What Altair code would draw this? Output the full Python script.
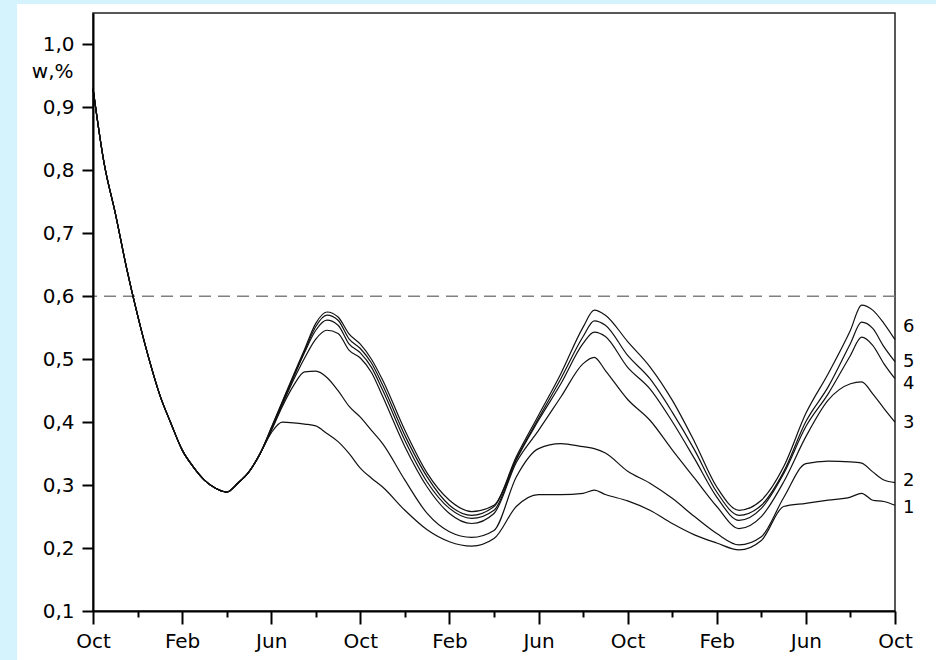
import altair as alt
import pandas as pd

# ---- data ----
months = [0, 0.5, 1, 1.5, 2, 2.5, 3, 3.5, 4, 4.5, 5, 5.5, 6, 6.5, 7, 7.5,
          8, 8.5, 9, 9.5, 10, 10.5, 11, 11.5, 12, 12.5, 13, 14, 15, 16, 17, 18,
          19, 20, 21, 22, 22.5, 23, 24, 25, 26, 27, 28, 29, 30, 31, 32, 33, 34,
          34.5, 35, 35.5, 36]

common = [0.930, 0.811, 0.732, 0.646, 0.570, 0.502, 0.443, 0.398, 0.356, 0.329,
          0.308, 0.295, 0.289, 0.303, 0.321, 0.350]

tail_1 = [0.383, 0.400, 0.399, 0.397, 0.394, 0.382, 0.369, 0.350, 0.327, 0.311,
          0.297, 0.260, 0.229, 0.210, 0.203, 0.215, 0.266, 0.285, 0.285, 0.287,
          0.292, 0.285, 0.275, 0.260, 0.239, 0.221, 0.208, 0.197, 0.212, 0.266,
          0.271, 0.276, 0.281, 0.287, 0.276, 0.274, 0.268]
tail_2 = [0.386, 0.425, 0.458, 0.480, 0.481, 0.471, 0.450, 0.425, 0.408, 0.387,
          0.366, 0.308, 0.255, 0.226, 0.217, 0.228, 0.313, 0.358, 0.366, 0.361,
          0.358, 0.351, 0.322, 0.303, 0.279, 0.250, 0.223, 0.205, 0.218, 0.280,
          0.334, 0.338, 0.337, 0.335, 0.321, 0.308, 0.304]
tail_3 = [0.388, 0.428, 0.467, 0.502, 0.532, 0.546, 0.541, 0.514, 0.502, 0.479,
          0.441, 0.361, 0.297, 0.255, 0.239, 0.255, 0.336, 0.387, 0.440, 0.493,
          0.503, 0.482, 0.436, 0.403, 0.356, 0.311, 0.266, 0.231, 0.250, 0.305,
          0.377, 0.435, 0.461, 0.464, 0.445, 0.422, 0.400]
tail_4 = [0.389, 0.430, 0.471, 0.511, 0.546, 0.562, 0.554, 0.524, 0.510, 0.487,
          0.451, 0.371, 0.305, 0.263, 0.247, 0.260, 0.340, 0.403, 0.461, 0.525,
          0.543, 0.536, 0.487, 0.453, 0.401, 0.342, 0.281, 0.244, 0.263, 0.318,
          0.393, 0.445, 0.506, 0.535, 0.522, 0.493, 0.469]
tail_5 = [0.390, 0.432, 0.473, 0.513, 0.552, 0.570, 0.562, 0.532, 0.517, 0.494,
          0.459, 0.379, 0.313, 0.268, 0.252, 0.266, 0.342, 0.406, 0.469, 0.536,
          0.561, 0.554, 0.506, 0.469, 0.416, 0.356, 0.289, 0.252, 0.268, 0.321,
          0.401, 0.456, 0.525, 0.559, 0.549, 0.520, 0.496]
tail_6 = [0.391, 0.433, 0.475, 0.516, 0.557, 0.575, 0.567, 0.540, 0.524, 0.500,
          0.467, 0.387, 0.319, 0.276, 0.258, 0.268, 0.345, 0.411, 0.477, 0.551,
          0.578, 0.570, 0.528, 0.488, 0.435, 0.369, 0.297, 0.260, 0.276, 0.329,
          0.414, 0.477, 0.546, 0.586, 0.578, 0.557, 0.531]

series_names = ["1", "2", "3", "4", "5", "6"]
tails = [tail_1, tail_2, tail_3, tail_4, tail_5, tail_6]
label_y = [0.264, 0.306, 0.399, 0.460, 0.496, 0.551]
threshold = [0.6]

month_names = ["Oct", "Feb", "Jun"]
x_ticks = list(range(0, 37, 2))
y_ticks = [round(0.1 + 0.05 * i, 2) for i in range(20)]

# ---- tables ----
rows = []
for name, tail in zip(series_names, tails):
    vals = common + tail
    for t, v in zip(months, vals):
        rows.append({"t": t, "w": v, "series": name})
df = pd.DataFrame(rows)
lab_df = pd.DataFrame({"t": [months[-1]] * 6, "w": label_y, "series": series_names})
thr_df = pd.DataFrame({"w": threshold})

FONT = "DejaVu Sans"

m0, m4, m8 = month_names
month_expr = (
    "datum.value % 4 === 0 ? (datum.value % 12 === 0 ? '" + m0 + "' : "
    "(datum.value % 12 === 4 ? '" + m4 + "' : '" + m8 + "')) : ''"
)

x_axis = alt.Axis(
    values=x_ticks,
    labelExpr=month_expr,
    tickSize={"condition": {"test": "datum.value % 4 === 0", "value": 13}, "value": 6},
    tickColor="black", tickWidth=2,
    domainColor="black", domainWidth=2,
    labelFont=FONT, labelFontSize=20, labelColor="black",
    labelPadding=7, labelOverlap=False, labelFlush=False,
    grid=False, title=None, zindex=1,
)
y_axis = alt.Axis(
    values=y_ticks,
    labelExpr="round(datum.value * 100) % 10 === 0 ? replace(format(datum.value, '.1f'), '.', ',') : ''",
    tickSize={"condition": {"test": "round(datum.value * 100) % 10 === 0", "value": 11}, "value": 6},
    tickColor="black", tickWidth=2,
    domainColor="black", domainWidth=2,
    labelFont=FONT, labelFontSize=20, labelColor="black",
    labelPadding=8, labelOverlap=False, labelFlush=False,
    grid=False, zindex=1,
    title="w,%", titleAngle=0, titleAlign="right", titleBaseline="alphabetic",
    titleX=-20, titleY=64, titleFont=FONT, titleFontSize=20,
    titleFontWeight="normal", titleColor="black",
)

x_scale = alt.Scale(domain=[0, 36], nice=False, zero=False)
y_scale = alt.Scale(domain=[0.1, 1.05], nice=False, zero=False)

lines = alt.Chart(df).mark_line(
    color="#111111", strokeWidth=1.2, interpolate="monotone"
).encode(
    x=alt.X("t:Q", scale=x_scale, axis=x_axis),
    y=alt.Y("w:Q", scale=y_scale, axis=y_axis),
    detail="series:N",
)

rule = alt.Chart(thr_df).mark_rule(
    color="#808080", strokeWidth=1.6, strokeDash=[12, 7]
).encode(y=alt.Y("w:Q", scale=y_scale))

labels = alt.Chart(lab_df).mark_text(
    align="left", baseline="middle", dx=8, font=FONT, fontSize=18, color="black"
).encode(
    x=alt.X("t:Q", scale=x_scale),
    y=alt.Y("w:Q", scale=y_scale),
    text="series:N",
)

strip_left = alt.Chart(alt.Data(values=[{}])).mark_rect(color="#d5f3fd").encode(
    x=alt.value(-93), x2=alt.value(-76), y=alt.value(-13), y2=alt.value(647)
)
strip_top = alt.Chart(alt.Data(values=[{}])).mark_rect(color="#d5f3fd").encode(
    x=alt.value(-93), x2=alt.value(843), y=alt.value(-13), y2=alt.value(-9)
)

chart = alt.layer(strip_left, strip_top, rule, lines, labels).properties(
    width=802,
    height=598,
    autosize=alt.AutoSizeParams(type="none"),
    padding={"left": 93, "top": 13, "right": 41, "bottom": 49},
    background="white",
).configure_view(
    stroke="#222222", strokeWidth=1.5, fill="white"
)

chart.save("out.html", embed_options={"renderer": "svg", "actions": False})
